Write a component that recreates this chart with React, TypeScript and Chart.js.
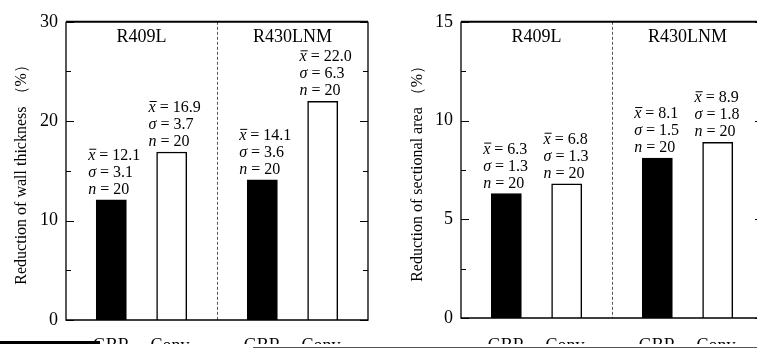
import React, { useEffect, useRef } from 'react';
import { Chart, registerables } from 'chart.js';

Chart.register(...registerables);

// ---- data ----
const groups = ['R409L', 'R430LNM'];
const methods = ['GBR', 'Conv.'];
const wallMean = [12.1, 16.9, 14.1, 22.0];
const wallSigma = [3.1, 3.7, 3.6, 6.3];
const areaMean = [6.3, 6.8, 8.1, 8.9];
const areaSigma = [1.3, 1.3, 1.5, 1.8];
const sampleN = [20, 20, 20, 20];
const wallAxis = { max: 30, major: 10, minor: 5 };
const areaAxis = { max: 15, major: 5, minor: 2.5 };
const wallTitle = 'Reduction of wall thickness （%）';
const areaTitle = 'Reduction of sectional area （%）';
const barFills = ['#000000', '#ffffff'];

const FONT = "'Liberation Serif', 'Times New Roman', serif";
// each group occupies 5 slots: gap, method0, gap, method1, gap
const SLOTS = 5;
const methodSlot = [1, 3];

function buildSlots(values: number[]) {
  const labels: string[] = [];
  const data: (number | null)[] = [];
  const bg: string[] = [];
  const idx: number[] = [];
  groups.forEach((_g, gi) => {
    for (let s = 0; s < SLOTS; s++) {
      const mi = methodSlot.indexOf(s);
      if (mi >= 0) {
        const k = gi * methods.length + mi;
        labels.push(methods[mi]);
        data.push(values[k]);
        bg.push(barFills[mi]);
        idx.push(k);
      } else {
        labels.push('');
        data.push(null);
        bg.push('rgba(0,0,0,0)');
        idx.push(-1);
      }
    }
  });
  return { labels, data, bg, idx };
}

type PanelProps = {
  width: number;
  height: number;
  left: number;
  top: number;
  yWidth: number;
  titlePad: number;
  xPad: number;
  yTitle: string;
  means: number[];
  sigmas: number[];
  axis: { max: number; major: number; minor: number };
};

function BarPanel(p: PanelProps) {
  const ref = useRef<HTMLCanvasElement | null>(null);
  useEffect(() => {
    const slots = buildSlots(p.means);
    const deco = {
      id: 'deco',
      afterDraw(chart: any) {
        const ctx = chart.ctx;
        const { left, right, top, bottom } = chart.chartArea;
        const ys = chart.scales.y;
        const xs = chart.scales.x;
        ctx.save();
        // inner ticks
        ctx.strokeStyle = '#000';
        ctx.lineWidth = 1.2;
        ys.ticks.forEach((t: any) => {
          const y = Math.round(ys.getPixelForValue(t.value)) + 0.5;
          const isMajor = Math.abs(t.value % p.axis.major) < 1e-6;
          const len = isMajor ? 8 : 5;
          ctx.beginPath();
          ctx.moveTo(left, y);
          ctx.lineTo(left + len, y);
          ctx.moveTo(right - len, y);
          ctx.lineTo(right, y);
          ctx.stroke();
        });
        // divider between groups
        const dx = Math.round(xs.getPixelForValue(SLOTS - 0.5)) + 0.5;
        ctx.strokeStyle = '#555';
        ctx.lineWidth = 1;
        ctx.setLineDash([3, 2]);
        ctx.beginPath();
        ctx.moveTo(dx, top);
        ctx.lineTo(dx, bottom);
        ctx.stroke();
        ctx.setLineDash([]);
        // frame
        ctx.strokeStyle = '#000';
        ctx.lineWidth = 1.3;
        ctx.beginPath();
        ctx.moveTo(left, top);
        ctx.lineTo(left, bottom);
        ctx.lineTo(right, bottom);
        ctx.lineTo(right, top);
        ctx.stroke();
        ctx.lineWidth = 2;
        ctx.beginPath();
        ctx.moveTo(left, top);
        ctx.lineTo(right, top);
        ctx.stroke();
        // group titles
        ctx.fillStyle = '#000';
        ctx.font = `18px ${FONT}`;
        ctx.textAlign = 'center';
        ctx.textBaseline = 'middle';
        groups.forEach((g, gi) => {
          const gx = xs.getPixelForValue(gi * SLOTS + 2);
          ctx.fillText(g, gx, top + 15);
        });
        // annotations
        const meta = chart.getDatasetMeta(0);
        ctx.textAlign = 'left';
        ctx.textBaseline = 'alphabetic';
        slots.idx.forEach((k, si) => {
          if (k < 0) return;
          const bar = meta.data[si];
          const x0 = bar.x - bar.width / 2 - 8;
          const bt = bar.y;
          const lines: [string, string, number][] = [
            ['x', ' = ' + p.means[k].toFixed(1), bt - 40],
            ['σ', ' = ' + p.sigmas[k].toFixed(1), bt - 23],
            ['n', ' = ' + sampleN[k], bt - 6],
          ];
          lines.forEach(([sym, rest, yb], li) => {
            ctx.font = `italic 16px ${FONT}`;
            ctx.fillText(sym, x0, yb);
            const w = ctx.measureText(sym).width;
            if (li === 0) {
              ctx.lineWidth = 1;
              ctx.beginPath();
              ctx.moveTo(x0 + 1, yb - 10.5);
              ctx.lineTo(x0 + w + 1, yb - 10.5);
              ctx.stroke();
            }
            ctx.font = `16px ${FONT}`;
            ctx.fillText(rest, x0 + w, yb);
          });
        });
        ctx.restore();
      },
    };

    const chart = new Chart(ref.current as HTMLCanvasElement, {
      type: 'bar',
      data: {
        labels: slots.labels,
        datasets: [
          {
            data: slots.data,
            backgroundColor: slots.bg,
            borderColor: '#000',
            borderWidth: 1.5,
            barPercentage: 1,
            categoryPercentage: 1,
          },
        ],
      },
      options: {
        responsive: false,
        animation: false,
        layout: { padding: { top: 12, right: 10, left: 0, bottom: 0 } },
        plugins: { legend: { display: false }, tooltip: { enabled: false } },
        scales: {
          x: {
            grid: { display: false, drawTicks: false },
            border: { display: false },
            ticks: {
              autoSkip: false,
              maxRotation: 0,
              color: '#000',
              padding: p.xPad,
              font: { family: FONT, size: 18 },
            },
            afterFit: (s: any) => {
              s.height = 40;
            },
          },
          y: {
            min: 0,
            max: p.axis.max,
            grid: { display: false, drawTicks: false },
            border: { display: false },
            ticks: {
              stepSize: p.axis.minor,
              color: '#000',
              padding: 8,
              font: { family: FONT, size: 18 },
              callback: (v: any) =>
                Math.abs(Number(v) % p.axis.major) < 1e-6 ? String(v) : '',
            },
            title: {
              display: true,
              text: p.yTitle,
              color: '#000',
              font: { family: FONT, size: 16 },
              padding: { top: p.titlePad, bottom: 0 },
            },
            afterFit: (s: any) => {
              s.width = p.yWidth;
            },
          },
        },
      },
      plugins: [deco],
    } as any);
    return () => chart.destroy();
  }, []);
  return (
    <canvas
      ref={ref}
      width={p.width}
      height={p.height}
      style={{ display: 'block', position: 'absolute', left: p.left, top: p.top }}
    />
  );
}

export default function App() {
  return (
    <div
      style={{
        position: 'fixed',
        left: 0,
        top: 0,
        width: 757,
        height: 350,
        background: '#fff',
        overflow: 'hidden',
      }}
    >
      <div style={{ position: 'absolute', left: 0, top: 0, width: 380, height: 344, overflow: 'hidden' }}>
        <BarPanel
          width={370}
          height={357}
          left={8}
          top={3}
          yWidth={58}
          titlePad={4.4}
          xPad={15}
          yTitle={wallTitle}
          means={wallMean}
          sigmas={wallSigma}
          axis={wallAxis}
        />
      </div>
      <div style={{ position: 'absolute', left: 385, top: 0, width: 372, height: 344, overflow: 'hidden' }}>
        <BarPanel
          width={373}
          height={355}
          left={15}
          top={3}
          yWidth={61}
          titlePad={8.4}
          xPad={17}
          yTitle={areaTitle}
          means={areaMean}
          sigmas={areaSigma}
          axis={areaAxis}
        />
      </div>
      <div style={{ position: 'absolute', left: 0, top: 341, width: 100, height: 3, background: '#000' }} />
      <div style={{ position: 'absolute', left: 253, top: 347, width: 504, height: 1, background: '#555' }} />
    </div>
  );
}
